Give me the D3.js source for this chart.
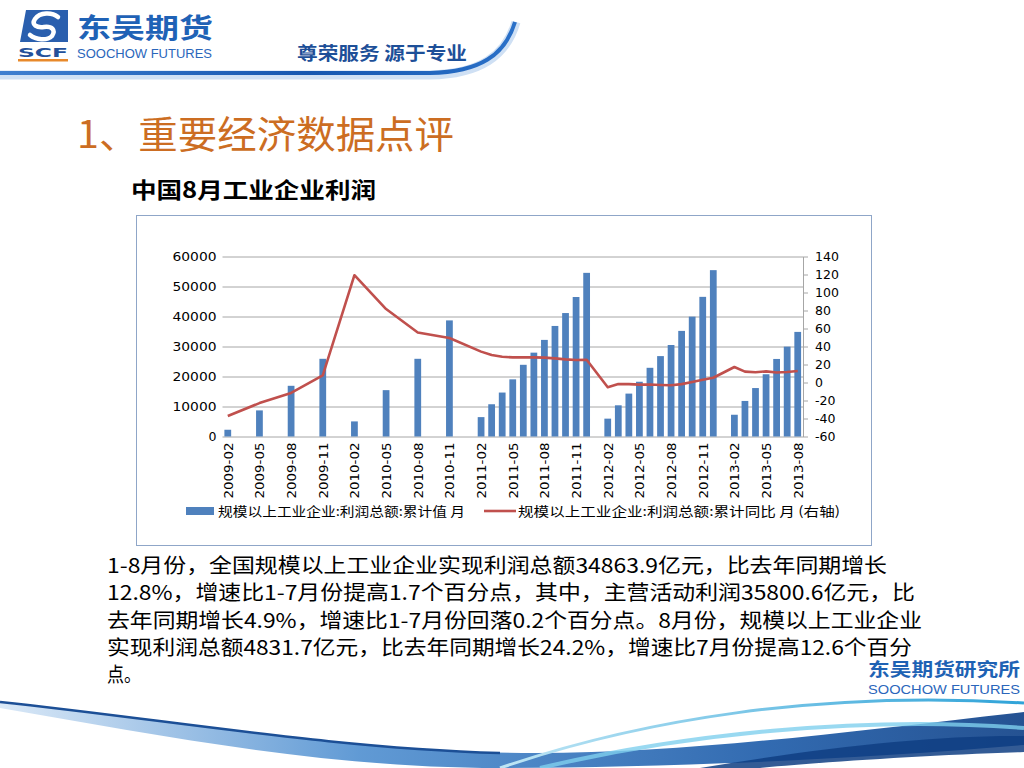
<!DOCTYPE html>
<html lang="zh">
<head>
<meta charset="UTF-8">
<title>中国8月工业企业利润</title>
<script src="https://d3js.org/d3.v7.min.js"></script>
<style>
    html, body { margin: 0; padding: 0; background: #ffffff; }
    svg { display: block; }
</style>
</head>
<body>
<svg id="page" width="1024" height="768"></svg>
<script>
// months that carry data (2009-2010 quarterly, later monthly, no January)
const dates = [
    "2009-02", "2009-05", "2009-08", "2009-11",
    "2010-02", "2010-05", "2010-08", "2010-11",
    "2011-02", "2011-03", "2011-04", "2011-05", "2011-06", "2011-07",
    "2011-08", "2011-09", "2011-10", "2011-11", "2011-12",
    "2012-02", "2012-03", "2012-04", "2012-05", "2012-06", "2012-07",
    "2012-08", "2012-09", "2012-10", "2012-11", "2012-12",
    "2013-02", "2013-03", "2013-04", "2013-05", "2013-06", "2013-07", "2013-08"
];
// 规模以上工业企业:利润总额:累计值 (亿元)
const profit = [
    2250, 8700, 16900, 25900,
    5030, 15450, 25900, 38700,
    6460, 10750, 14650, 19050, 23900, 27950,
    32200, 36850, 41150, 46500, 54550,
    5950, 10400, 14300, 18250, 22900, 26800,
    30500, 35200, 39950, 46550, 55450,
    7250, 11850, 16150, 20750, 25850, 29950, 34864
];
// 规模以上工业企业:利润总额:累计同比 (%)
const growth = [
    -37.3, -22.9, -11.6, 7.8,
    119.2, 81.6, 55.6, 49.4,
    34.3, 30.5, 28.6, 27.9, 27.9, 27.9,
    27.6, 26.8, 25.7, 25.0, 25.2,
    -5.2, -1.6, -1.8, -2.4, -2.2, -2.7,
    -3.1, -1.8, 0.5, 3.0, 5.3,
    17.2, 12.1, 11.4, 12.4, 11.1, 11.6, 12.8
];
const leftTicks = [0, 10000, 20000, 30000, 40000, 50000, 60000];
const rightTicks = [-60, -40, -20, 0, 20, 40, 60, 80, 100, 120, 140];
const seriesNames = ["规模以上工业企业:利润总额:累计值 月", "规模以上工业企业:利润总额:累计同比 月 (右轴)"];

const paragraph = [
    "1-8月份，全国规模以上工业企业实现利润总额34863.9亿元，比去年同期增长",
    "12.8%，增速比1-7月份提高1.7个百分点，其中，主营活动利润35800.6亿元，比",
    "去年同期增长4.9%，增速比1-7月份回落0.2个百分点。8月份，规模以上工业企业",
    "实现利润总额4831.7亿元，比去年同期增长24.2%，增速比7月份提高12.6个百分",
    "点。"
];
const paraWidths = [780, 808, 815, 805, 34];

const cjk = "'Noto Sans CJK SC', 'DejaVu Sans', sans-serif";
const num = "'DejaVu Sans', 'Noto Sans CJK SC', sans-serif";
const narrow = "'Liberation Sans Narrow', 'Liberation Sans', sans-serif";

const svg = d3.select("#page");
const defs = svg.append("defs");

// ---------- header ----------
const topGrad = defs.append("linearGradient").attr("id", "topGrad")
    .attr("x1", "0%").attr("x2", "100%");
topGrad.append("stop").attr("offset", "0%").attr("stop-color", "#3f7fd0");
topGrad.append("stop").attr("offset", "60%").attr("stop-color", "#1657b0");
topGrad.append("stop").attr("offset", "100%").attr("stop-color", "#2a70c8");

svg.append("path")
    .attr("d", "M0,75 L430,75 C480,74 506,56 516,22")
    .attr("fill", "none").attr("stroke", "#cfe0f4").attr("stroke-width", 9);
svg.append("path")
    .attr("d", "M0,73 L430,73 C480,72 505,55 515,22")
    .attr("fill", "none").attr("stroke", "url(#topGrad)").attr("stroke-width", 4);

// logo mark
const logo = svg.append("g");
logo.append("path")
    .attr("d", "M26,10 L68,10 L68,42 L20,42 Z")
    .attr("fill", "#2a5fae");
logo.append("path")
    .attr("d", "M58,17 C52,12 40,12 35,19 C31,25 37,28 44,27 C52,26 56,30 52,36 C47,41 36,40 30,35")
    .attr("fill", "none").attr("stroke", "#ffffff").attr("stroke-width", 4.5).attr("stroke-linecap", "round");
logo.append("text").attr("x", 18).attr("y", 57)
    .attr("font-family", num).attr("font-weight", "bold").attr("font-size", 12)
    .attr("fill", "#23509a").attr("textLength", 50).attr("lengthAdjust", "spacingAndGlyphs")
    .text("SCF");
logo.append("rect").attr("x", 18).attr("y", 59).attr("width", 50).attr("height", 2.5).attr("fill", "#e8892b");
logo.append("text").attr("x", 77).attr("y", 38)
    .attr("font-family", cjk).attr("font-weight", "bold").attr("font-size", 27)
    .attr("fill", "#1f62b6").attr("textLength", 136).attr("lengthAdjust", "spacingAndGlyphs")
    .text("东吴期货");
logo.append("text").attr("x", 77).attr("y", 58)
    .attr("font-family", narrow).attr("font-size", 12)
    .attr("fill", "#2a66bb").attr("textLength", 135).attr("lengthAdjust", "spacingAndGlyphs")
    .text("SOOCHOW FUTURES");
svg.append("text").attr("x", 297).attr("y", 60)
    .attr("font-family", cjk).attr("font-weight", "bold").attr("font-size", 18)
    .attr("fill", "#1d4f98").attr("textLength", 170).attr("lengthAdjust", "spacingAndGlyphs")
    .text("尊荣服务 源于专业");

// ---------- titles ----------
svg.append("text").attr("x", 77).attr("y", 148)
    .attr("font-family", cjk).attr("font-size", 38)
    .attr("fill", "#cc6d22").attr("textLength", 377).attr("lengthAdjust", "spacingAndGlyphs")
    .text("1、重要经济数据点评");
svg.append("text").attr("x", 131).attr("y", 198)
    .attr("font-family", cjk).attr("font-weight", "bold").attr("font-size", 22)
    .attr("fill", "#000000").attr("textLength", 245).attr("lengthAdjust", "spacingAndGlyphs")
    .text("中国8月工业企业利润");

// ---------- chart ----------
svg.append("rect")
    .attr("x", 136.5).attr("y", 215.5).attr("width", 735).attr("height", 330)
    .attr("fill", "#ffffff").attr("stroke", "#8fa6c8").attr("stroke-width", 1);

const plot = { left: 222.5, right: 803, top: 256.5, bottom: 436.5 };
const parse = d3.timeParse("%Y-%m");
const fmt = d3.timeFormat("%Y-%m");
const allMonths = d3.timeMonth.range(parse(dates[0]), d3.timeMonth.offset(parse(dates[dates.length - 1]), 1)).map(fmt);

const x = d3.scaleBand().domain(allMonths)
    .range([plot.left, plot.right]).paddingInner(0.36).paddingOuter(0.18);
const yL = d3.scaleLinear().domain([0, 60000]).range([plot.bottom, plot.top]);
const yR = d3.scaleLinear().domain([-60, 140]).range([plot.bottom, plot.top]);

const data = dates.map((d, i) => ({ date: d, profit: profit[i], growth: growth[i] }));

// gridlines + left axis
const gL = svg.append("g").attr("transform", `translate(${plot.left},0)`)
    .call(d3.axisLeft(yL).tickValues(leftTicks).tickFormat(d => String(d))
        .tickSize(-(plot.right - plot.left)).tickPadding(6));
gL.select(".domain").remove();
gL.selectAll(".tick line").attr("stroke", "#a6a6a6").attr("stroke-width", 1);
gL.selectAll(".tick text").attr("font-family", num).attr("font-size", 12.5).attr("fill", "#000")
    .attr("textLength", 44).attr("lengthAdjust", "spacingAndGlyphs");
gL.selectAll(".tick text").filter(d => d === 0).attr("textLength", null);

// bars
svg.append("g").selectAll("rect").data(data).join("rect")
    .attr("x", d => x(d.date))
    .attr("width", x.bandwidth())
    .attr("y", d => yL(d.profit))
    .attr("height", d => yL(0) - yL(d.profit))
    .attr("fill", "#4f81bd");

// right axis
const gR = svg.append("g").attr("transform", `translate(${plot.right},0)`)
    .call(d3.axisRight(yR).tickValues(rightTicks).tickFormat(d => String(d))
        .tickSize(5).tickPadding(7).tickSizeOuter(0));
gR.select(".domain").attr("stroke", "#a6a6a6");
gR.selectAll(".tick line").attr("stroke", "#a6a6a6");
gR.selectAll(".tick text").attr("font-family", num).attr("font-size", 12.5).attr("fill", "#000");

// line
const line = d3.line()
    .x(d => x(d.date) + x.bandwidth() / 2)
    .y(d => yR(d.growth));
svg.append("path").datum(data)
    .attr("d", line)
    .attr("fill", "none")
    .attr("stroke", "#c0504d")
    .attr("stroke-width", 2.6)
    .attr("stroke-linejoin", "round");

// x axis labels every 3 months
const tickMonths = allMonths.filter((m, i) => i % 3 === 0);
const gX = svg.append("g").attr("transform", `translate(0,${plot.bottom})`)
    .call(d3.axisBottom(x).tickValues(tickMonths).tickSize(0).tickPadding(0));
gX.select(".domain").remove();
gX.selectAll(".tick text")
    .attr("font-family", num).attr("font-size", 12).attr("fill", "#000")
    .attr("transform", "rotate(-90)")
    .attr("text-anchor", "end")
    .attr("x", -6).attr("y", 0).attr("dy", "0.4em").attr("dx", 0)
    .attr("textLength", 56).attr("lengthAdjust", "spacingAndGlyphs");

// legend
const lg = svg.append("g").attr("transform", "translate(0,511)");
lg.append("rect").attr("x", 186).attr("y", -4).attr("width", 28).attr("height", 8).attr("fill", "#4f81bd");
lg.append("text").attr("x", 218).attr("y", 0).attr("dy", "0.36em")
    .attr("font-family", cjk).attr("font-size", 13).attr("fill", "#000")
    .attr("textLength", 247).attr("lengthAdjust", "spacingAndGlyphs")
    .text(seriesNames[0]);
lg.append("line").attr("x1", 484).attr("x2", 516).attr("y1", 0).attr("y2", 0)
    .attr("stroke", "#c0504d").attr("stroke-width", 2.6);
lg.append("text").attr("x", 518).attr("y", 0).attr("dy", "0.36em")
    .attr("font-family", cjk).attr("font-size", 13).attr("fill", "#000")
    .attr("textLength", 322).attr("lengthAdjust", "spacingAndGlyphs")
    .text(seriesNames[1]);

// ---------- commentary ----------
svg.append("g").selectAll("text").data(paragraph).join("text")
    .attr("x", 107)
    .attr("y", (d, i) => 573 + i * 27.3)
    .attr("font-family", cjk).attr("font-size", 20.5).attr("fill", "#000")
    .attr("textLength", (d, i) => paraWidths[i]).attr("lengthAdjust", "spacingAndGlyphs")
    .text(d => d);

// ---------- footer ----------
const fg1 = defs.append("linearGradient").attr("id", "fg1").attr("x1", "0%").attr("x2", "100%");
fg1.append("stop").attr("offset", "0%").attr("stop-color", "#d6e6f6");
fg1.append("stop").attr("offset", "35%").attr("stop-color", "#4f8fd0");
fg1.append("stop").attr("offset", "75%").attr("stop-color", "#1b5aa8");
fg1.append("stop").attr("offset", "100%").attr("stop-color", "#0d3f86");
const fg2 = defs.append("linearGradient").attr("id", "fg2").attr("x1", "0%").attr("x2", "100%");
fg2.append("stop").attr("offset", "0%").attr("stop-color", "#bfe6f5");
fg2.append("stop").attr("offset", "100%").attr("stop-color", "#2fa3d8");

svg.append("path")
    .attr("d", "M0,703 C150,715 300,745 480,752 C650,758 820,735 1024,712 L1024,745 C850,760 650,768 500,768 C320,768 160,735 0,708 Z")
    .attr("fill", "url(#fg1)").attr("opacity", 0.9);
svg.append("path")
    .attr("d", "M0,702 C170,720 330,748 500,753")
    .attr("fill", "none").attr("stroke", "#1c4f96").attr("stroke-width", 2.5);
svg.append("path")
    .attr("d", "M500,768 C640,720 820,690 1024,703")
    .attr("fill", "none").attr("stroke", "url(#fg2)").attr("stroke-width", 3);
svg.append("path")
    .attr("d", "M540,768 C680,735 860,715 1024,728")
    .attr("fill", "none").attr("stroke", "#7fd0ee").attr("stroke-width", 4).attr("opacity", 0.8);
svg.append("path")
    .attr("d", "M700,768 C820,748 930,735 1024,736 L1024,752 C930,755 820,762 760,768 Z")
    .attr("fill", "#0f3e82").attr("opacity", 0.85);

svg.append("text").attr("x", 868).attr("y", 676)
    .attr("font-family", cjk).attr("font-weight", "bold").attr("font-size", 18)
    .attr("fill", "#1e62b4").attr("textLength", 152).attr("lengthAdjust", "spacingAndGlyphs")
    .text("东吴期货研究所");
svg.append("text").attr("x", 868).attr("y", 694)
    .attr("font-family", narrow).attr("font-size", 13)
    .attr("fill", "#2a66bb").attr("textLength", 152).attr("lengthAdjust", "spacingAndGlyphs")
    .text("SOOCHOW FUTURES");
</script>
</body>
</html>
